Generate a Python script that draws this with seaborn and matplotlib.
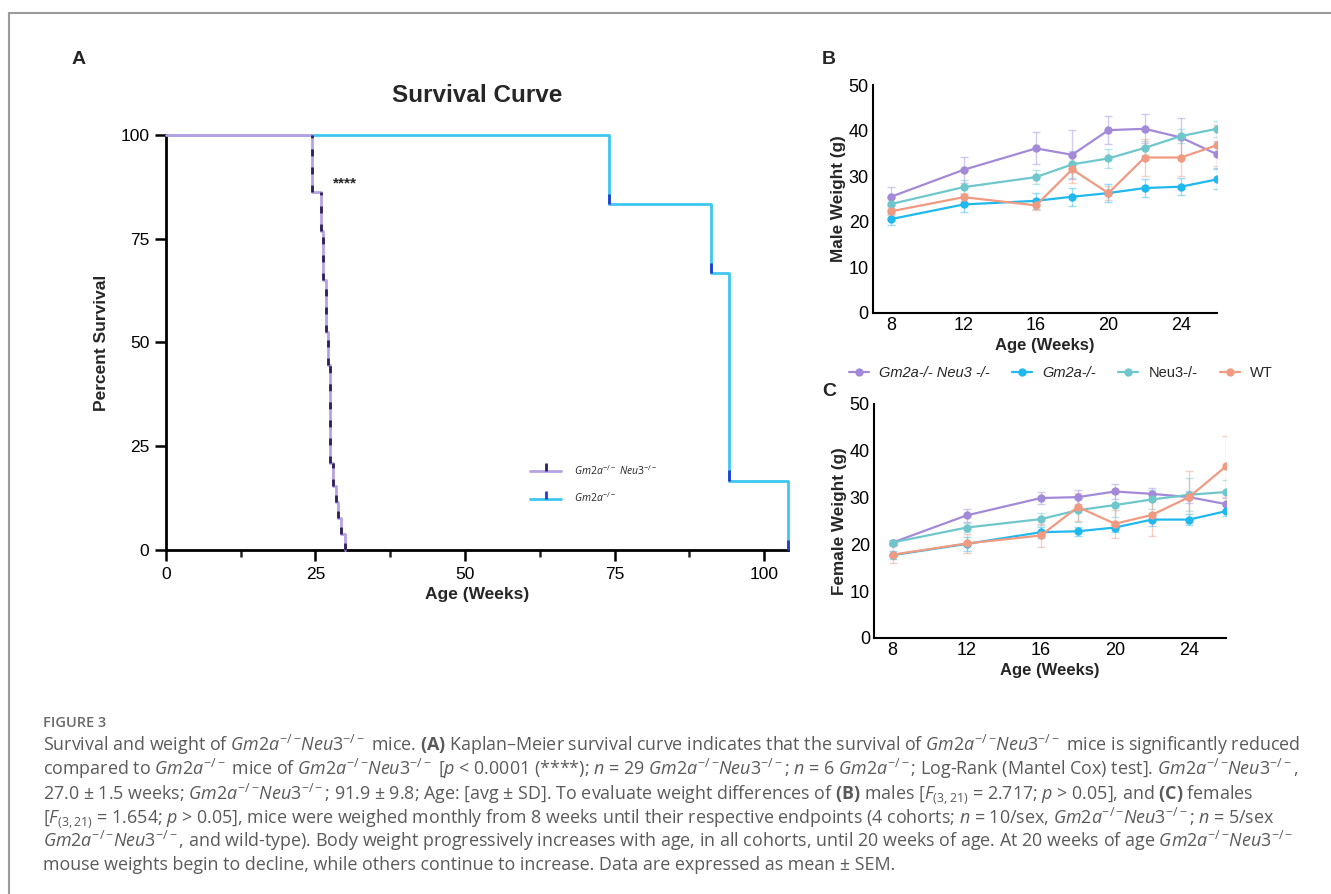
import numpy as np
import pandas as pd
import matplotlib.pyplot as plt
import seaborn as sns
from matplotlib.lines import Line2D
from matplotlib.path import Path

# ---- survival data (Kaplan-Meier steps) ----
dko_weeks = [0, 24.4, 25.9, 26.3, 26.8, 27.1, 27.5, 28.0, 28.4, 28.7, 29.3, 29.9]
dko_surv = [100, 86.2, 76.9, 65.0, 52.6, 44.6, 21.0, 15.5, 11.5, 7.7, 3.8, 0]
gm2a_weeks = [0, 74.1, 91.2, 94.1, 104.0]
gm2a_surv = [100, 83.3, 66.7, 16.7, 0]

# ---- weight data (mean +/- SEM) ----
ages = [8, 12, 16, 18, 20, 22, 24, 26]
genotypes = ["Gm2a-/- Neu3 -/-", "Gm2a-/-", "Neu3-/-", "WT"]

male_dko = [25.5, 31.4, 36.1, 34.7, 40.1, 40.4, 38.5, 34.8]
male_gm2a = [20.6, 23.8, 24.6, 25.5, 26.3, 27.4, 27.7, 29.3]
male_neu3 = [23.9, 27.6, 29.8, 32.6, 33.9, 36.2, 38.8, 40.4]
male_wt = [22.3, 25.4, 23.6, 31.5, 26.3, 34.1, 34.1, 36.8]
male_dko_sem = [2.1, 2.8, 3.5, 5.4, 3.0, 3.2, 4.3, 3.0]
male_gm2a_sem = [1.2, 1.7, 1.8, 2.0, 2.0, 1.9, 1.9, 2.2]
male_neu3_sem = [1.3, 1.5, 1.6, 3.0, 2.0, 1.5, 1.5, 1.8]
male_wt_sem = [0.8, 1.0, 1.0, 3.0, 1.5, 4.0, 4.0, 4.5]

female_dko = [20.4, 26.2, 29.9, 30.1, 31.3, 30.8, 30.1, 28.6]
female_gm2a = [17.7, 20.1, 22.6, 22.8, 23.6, 25.3, 25.3, 27.1]
female_neu3 = [20.4, 23.6, 25.4, 27.3, 28.4, 29.6, 30.6, 31.2]
female_wt = [17.8, 20.2, 21.9, 28.0, 24.4, 26.3, 30.1, 36.7]
female_dko_sem = [0.5, 1.4, 1.3, 1.5, 1.6, 1.3, 1.2, 1.3]
female_gm2a_sem = [0.8, 1.5, 1.2, 1.0, 1.0, 1.3, 1.2, 1.0]
female_neu3_sem = [0.5, 1.0, 1.3, 2.5, 2.5, 2.0, 3.5, 2.5]
female_wt_sem = [1.8, 2.0, 2.5, 3.0, 3.0, 4.5, 5.5, 6.5]

palette = {"Gm2a-/- Neu3 -/-": "#a38ad8", "Gm2a-/-": "#1fb8ef",
           "Neu3-/-": "#6fc7cc", "WT": "#f09a82"}
lav = "#b6a2e2"
sky = "#3dc6f0"


def long_table(means, sems):
    rows = []
    for g, m, s in zip(genotypes, means, sems):
        for a, v, e in zip(ages, m, s):
            rows.append({"Age": a, "Weight": v, "SEM": e, "Genotype": g})
    return pd.DataFrame(rows)


male_df = long_table([male_dko, male_gm2a, male_neu3, male_wt],
                     [male_dko_sem, male_gm2a_sem, male_neu3_sem, male_wt_sem])
female_df = long_table([female_dko, female_gm2a, female_neu3, female_wt],
                       [female_dko_sem, female_gm2a_sem, female_neu3_sem, female_wt_sem])

sns.set_style("ticks")
plt.rcParams["font.family"] = ["Liberation Sans", "DejaVu Sans"]
plt.rcParams["mathtext.fontset"] = "custom"
plt.rcParams["mathtext.rm"] = "Open Sans"
plt.rcParams["mathtext.it"] = "Open Sans:italic"
plt.rcParams["mathtext.bf"] = "Open Sans:bold"

fig = plt.figure(figsize=(13.31, 8.94), dpi=100)

# ---------------- Panel A ----------------
ax_a = fig.add_axes([0.1247, 0.3848, 0.4673, 0.4642])
surv_df = pd.DataFrame({"Age": dko_weeks, "Survival": dko_surv})
sns.lineplot(data=surv_df, x="Age", y="Survival", ax=ax_a, estimator=None,
             drawstyle="steps-post", color=lav, lw=2, clip_on=False, zorder=3)
gm_df = pd.DataFrame({"Age": gm2a_weeks, "Survival": gm2a_surv})
sns.lineplot(data=gm_df, x="Age", y="Survival", ax=ax_a, estimator=None,
             drawstyle="steps-post", color=sky, lw=2, clip_on=False, zorder=2)
# tick marks along the drops
ax_a.vlines(dko_weeks[1:], dko_surv[1:], dko_surv[:-1], colors="#2e1f5e",
            linestyles=(0, (2.5, 4)), lw=2, zorder=4, clip_on=False)
ax_a.vlines(gm2a_weeks[1:], gm2a_surv[1:], np.array(gm2a_surv[1:]) + 2.5,
            colors="#1f3fd6", lw=2, zorder=4, clip_on=False)

ax_a.set_xlim(0, 104)
ax_a.set_ylim(0, 100)
ax_a.set_xticks([0, 25, 50, 75, 100])
ax_a.set_xticks([12.5, 37.5, 62.5, 87.5], minor=True)
ax_a.set_yticks([0, 25, 50, 75, 100])
ax_a.tick_params(axis="both", which="major", direction="out", length=8, width=1.8,
                 labelsize=12.5, colors="black", pad=4)
ax_a.tick_params(axis="x", which="minor", direction="out", length=5, width=1.8)
ax_a.set_xlabel("Age (Weeks)", fontsize=12.5, fontweight="bold", labelpad=4)
ax_a.set_ylabel("Percent Survival", fontsize=12.5, fontweight="bold", labelpad=8)
ax_a.set_title("Survival Curve", fontsize=17.5, fontweight="bold", pad=24)
for sp in ["top", "right"]:
    ax_a.spines[sp].set_visible(False)
for sp in ["left", "bottom"]:
    ax_a.spines[sp].set_linewidth(2)
    ax_a.spines[sp].set_color("black")
ax_a.text(30.0, 88.2, "****", fontsize=11, fontweight="bold", ha="center", va="center")

tick_up = Path([(0, 0), (0, 1)])
a_handles = [
    Line2D([], [], color=lav, lw=2, marker=tick_up, markersize=12,
           markeredgecolor="#2e1f5e", markeredgewidth=2),
    Line2D([], [], color=sky, lw=2, marker=tick_up, markersize=12,
           markeredgecolor="#1f3fd6", markeredgewidth=2),
]
a_labels = [r"$\mathit{Gm2a}^{-/-}\ \mathit{Neu3}^{-/-}$", r"$\mathit{Gm2a}^{-/-}$"]
ax_a.legend(a_handles, a_labels, loc="center left", bbox_to_anchor=(0.57, 0.16),
            frameon=False, fontsize=7.5, handlelength=3.0, labelspacing=1.3,
            numpoints=1, handletextpad=1.2)


# ---------------- Panels B & C ----------------
def weight_panel(ax, df, ylabel):
    sns.lineplot(data=df, x="Age", y="Weight", hue="Genotype", palette=palette,
                 hue_order=genotypes, marker="o", markersize=6, markeredgewidth=0,
                 lw=1.6, estimator=None, legend=False, ax=ax, zorder=3)
    for g in genotypes:
        sub = df[df["Genotype"] == g]
        ax.errorbar(sub["Age"], sub["Weight"], yerr=sub["SEM"], fmt="none",
                    ecolor=palette[g], alpha=0.45, elinewidth=1, capsize=3,
                    capthick=1, zorder=2)
    ax.set_xlim(7, 26)
    ax.set_ylim(0, 50)
    ax.set_xticks([8, 12, 16, 20, 24])
    ax.set_yticks([0, 10, 20, 30, 40, 50])
    ax.tick_params(axis="both", direction="out", length=0, labelsize=13,
                   colors="black", pad=3)
    ax.set_xlabel("Age (Weeks)", fontsize=12, fontweight="bold", labelpad=3)
    ax.set_ylabel(ylabel, fontsize=12.3, fontweight="bold", labelpad=2)
    for sp in ["top", "right"]:
        ax.spines[sp].set_visible(False)
    for sp in ["left", "bottom"]:
        ax.spines[sp].set_linewidth(1.5)
        ax.spines[sp].set_color("black")


ax_b = fig.add_axes([0.6559, 0.6499, 0.2585, 0.255])
weight_panel(ax_b, male_df, "Male Weight (g)")
ax_c = fig.add_axes([0.6567, 0.2864, 0.2645, 0.2617])
weight_panel(ax_c, female_df, "Female Weight (g)")

bc_handles = [Line2D([], [], color=palette[g], lw=1.6, marker="o", markersize=6,
                     markeredgewidth=0) for g in genotypes]
leg = fig.legend(bc_handles, genotypes, loc="center", bbox_to_anchor=(0.797, 0.583),
                 ncol=4, frameon=False, fontsize=10.5, handlelength=1.4,
                 columnspacing=1.5, handletextpad=0.7)
for t in leg.get_texts()[:2]:
    t.set_style("italic")

# panel letters
fig.text(72 / 1331, 1 - 60 / 894, "A", fontsize=14, fontweight="bold", va="center")
fig.text(822 / 1331, 1 - 60 / 894, "B", fontsize=14, fontweight="bold", va="center")
fig.text(822 / 1331, 1 - 392 / 894, "C", fontsize=14, fontweight="bold", va="center")

# frame lines
fig.add_artist(Line2D([9 / 1331, 1], [1 - 13 / 894, 1 - 13 / 894], color="#9a9a9a", lw=1.5))
fig.add_artist(Line2D([9 / 1331, 9 / 1331], [0, 1 - 13 / 894], color="#9a9a9a", lw=1.5))

# caption
GN = r"$\mathit{Gm2a}^{-/-}\!\mathit{Neu3}^{-/-}$"
G = r"$\mathit{Gm2a}^{-/-}$"
caption = [
    "Survival and weight of " + GN + r" mice. $\mathbf{(A)}$ Kaplan–Meier survival curve indicates that the survival of "
    + GN + " mice is significantly reduced",
    "compared to " + G + " mice of " + GN + r" [$\mathit{p}$ < 0.0001 (****); $\mathit{n}$ = 29 " + GN
    + r"; $\mathit{n}$ = 6 " + G + "; Log-Rank (Mantel Cox) test]. " + GN + ",",
    "27.0 ± 1.5 weeks; " + GN + r"; 91.9 ± 9.8; Age: [avg ± SD]. To evaluate weight differences of $\mathbf{(B)}$ males [$\mathit{F}_{(3,21)}$ = 2.717; $\mathit{p}$ > 0.05], and $\mathbf{(C)}$ females",
    r"[$\mathit{F}_{(3,21)}$ = 1.654; $\mathit{p}$ > 0.05], mice were weighed monthly from 8 weeks until their respective endpoints (4 cohorts; $\mathit{n}$ = 10/sex, "
    + GN + r"; $\mathit{n}$ = 5/sex",
    GN + ", and wild-type). Body weight progressively increases with age, in all cohorts, until 20 weeks of age. At 20 weeks of age " + GN,
    "mouse weights begin to decline, while others continue to increase. Data are expressed as mean ± SEM.",
]
fig.text(43 / 1331, 1 - 723 / 894, "FIGURE 3", fontsize=10.5, color="#6a6a6a",
         family="Open Sans", fontweight="semibold", va="center")
for i, line in enumerate(caption):
    y = 745 + i * 24
    fig.text(43 / 1331, 1 - y / 894, line, fontsize=12.85, color="#5a5a5a",
             family="Open Sans", va="center")

fig.savefig("out.png", dpi=100)
